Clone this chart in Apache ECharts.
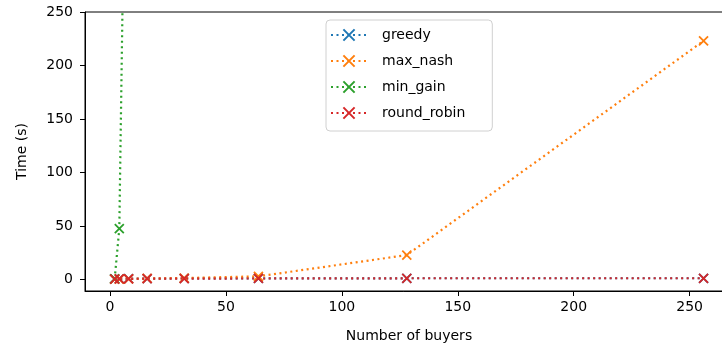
<!DOCTYPE html>
<html>
<head>
<meta charset="utf-8">
<script src="https://cdn.jsdelivr.net/npm/echarts@6/dist/echarts.min.js"></script>
<style>html,body{margin:0;padding:0;background:#fff}#c{width:722px;height:350px}</style>
</head>
<body>
<div id="c"></div>
<script>
const buyers = [2, 4, 8, 16, 32, 64, 128, 256];
const greedy = [0.4, 0.5, 0.6, 0.7, 0.8, 0.9, 1.0, 1.0];
const maxNash = [0.2, 0.3, 0.5, 0.8, 1.2, 2.8, 22.7, 223];
const minGainX = [2, 4, 8];
const minGain = [0.4, 47.5, 650];
const roundRobin = [0.3, 0.4, 0.5, 0.6, 0.7, 0.8, 1.0, 1.0];
const tickValues = [0, 50, 100, 150, 200, 250];
const seriesNames = ['greedy', 'max_nash', 'min_gain', 'round_robin'];
const colors = ['#1f77b4', '#ff7f0e', '#2ca02c', '#d62728'];

const X_PATH = 'path://M0,0L10,10M10,0L0,10';
function mk(name, xs, ys, color) {
  return {
    name: name, type: 'line',
    data: xs.map((x, i) => [x, ys[i]]),
    symbol: X_PATH, symbolSize: 9,
    showSymbol: true,
    clip: true,
    itemStyle: { color: color, borderColor: color, borderWidth: 1.8 },
    lineStyle: { color: color, width: 2.2, type: [2, 3.5], cap: 'butt' },
    emphasis: { disabled: true },
    animation: false
  };
}
const chart = echarts.init(document.getElementById('c'), null, { renderer: 'canvas' });
const font = 'DejaVu Sans';
chart.setOption({
  animation: false,
  backgroundColor: '#fff',
  textStyle: { fontFamily: font },
  grid: { left: 85, top: 12, width: 648, height: 279, outerBoundsMode: 'none', containLabel: false, show: true, borderColor: '#000', borderWidth: 1, backgroundColor: 'transparent' },
  legend: {
    orient: 'vertical', left: 326, top: 20,
    data: seriesNames,
    itemWidth: 36, itemHeight: 14, itemGap: 12,
    padding: [8, 27, 11, 4],
    backgroundColor: 'rgba(255,255,255,0.8)', borderColor: '#d0d0d0', borderWidth: 1, borderRadius: 4,
    textStyle: { fontFamily: font, fontSize: 14, color: '#000', padding: [0, 0, 0, 10] }
  },
  xAxis: {
    type: 'value', min: -10.8, max: 268.7,
    name: 'Number of buyers', nameLocation: 'middle', nameGap: 38,
    nameTextStyle: { fontFamily: font, fontSize: 14, color: '#000' },
    axisLine: { show: true, onZero: false, lineStyle: { color: '#000', width: 1 } },
    axisTick: { show: true, length: 5, customValues: tickValues, lineStyle: { color: '#000' } },
    axisLabel: { customValues: tickValues, fontFamily: font, fontSize: 14, color: '#000', margin: 9 },
    splitLine: { show: false }
  },
  yAxis: {
    type: 'value', min: -10.9, max: 250,
    name: 'Time (s)', nameLocation: 'middle', nameGap: 56, nameRotate: 90,
    nameTextStyle: { fontFamily: font, fontSize: 14, color: '#000' },
    axisLine: { show: true, onZero: false, lineStyle: { color: '#000', width: 1 } },
    axisTick: { show: true, length: 5, customValues: tickValues, lineStyle: { color: '#000' } },
    axisLabel: { customValues: tickValues, fontFamily: font, fontSize: 14, color: '#000', margin: 12 },
    splitLine: { show: false }
  },
  series: [
    mk('greedy', buyers, greedy, colors[0]),
    mk('max_nash', buyers, maxNash, colors[1]),
    mk('min_gain', minGainX, minGain, colors[2]),
    mk('round_robin', buyers, roundRobin, colors[3])
  ]
});
</script>
</body>
</html>
